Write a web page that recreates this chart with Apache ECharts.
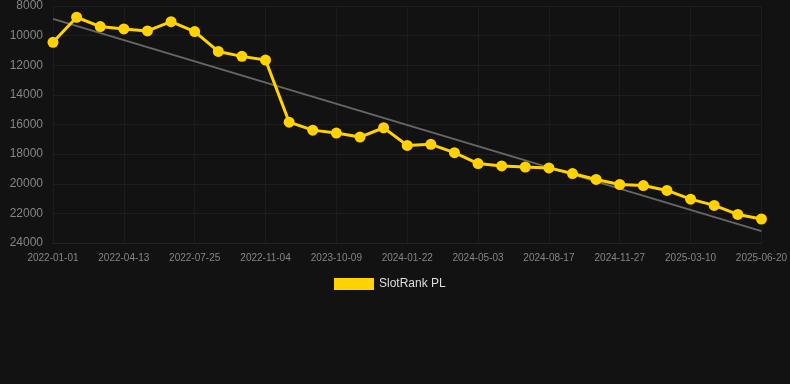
<!DOCTYPE html>
<html>
<head>
<meta charset="utf-8">
<script src="https://cdn.jsdelivr.net/npm/echarts@6/dist/echarts.min.js"></script>
<style>
html,body{margin:0;padding:0;background:#121212;}
#c{width:790px;height:384px;}
</style>
</head>
<body>
<div id="c"></div>
<script>
const xLabels = ["2022-01-01","2022-02-04","2022-03-10","2022-04-13","2022-05-17","2022-06-20","2022-07-25","2022-08-28","2022-10-01","2022-11-04","2023-07-01","2023-09-05","2023-10-09","2023-11-12","2023-12-17","2024-01-22","2024-02-25","2024-03-30","2024-05-03","2024-06-07","2024-07-12","2024-08-17","2024-09-20","2024-10-24","2024-11-27","2024-12-31","2025-02-04","2025-03-10","2025-04-13","2025-05-17","2025-06-20"];
const rankValues = [10450,8760,9390,9545,9680,9055,9727,11070,11400,11650,15840,16380,16580,16850,16220,17410,17340,17900,18640,18800,18870,18930,19310,19710,20050,20120,20450,21040,21460,22070,22380];
const seriesName = "SlotRank PL";
const yTicks = [8000,10000,12000,14000,16000,18000,20000,22000,24000];

// least-squares trend line from the data
const n = rankValues.length;
let sx=0, sy=0, sxy=0, sxx=0;
rankValues.forEach((v,i)=>{sx+=i; sy+=v; sxy+=i*v; sxx+=i*i;});
const slope = (n*sxy - sx*sy)/(n*sxx - sx*sx);
const icpt = (sy - slope*sx)/n;
const trendStart = icpt;
const trendEnd = icpt + slope*(n-1);

const chart = echarts.init(document.getElementById('c'), null, {renderer:'canvas'});
chart.setOption({
  backgroundColor: '#121212',
  animation: false,
  grid: {left: 53, right: 28, top: 6, bottom: 141},
  legend: {
    data: [seriesName],
    top: 273,
    left: 329,
    itemWidth: 40, itemHeight: 12, itemGap: 10,
    icon: 'rect',
    textStyle: {color: '#dddddd', fontSize: 12, fontFamily: 'Liberation Sans, Arial, sans-serif'}
  },
  xAxis: {
    type: 'category',
    boundaryGap: false,
    data: xLabels,
    axisLine: {show: true, lineStyle: {color: '#232323'}},
    axisTick: {show: false},
    axisLabel: {color: '#858585', fontSize: 10, interval: 2, margin: 10, fontFamily: 'Liberation Sans, Arial, sans-serif'},
    splitLine: {show: true, interval: 2, lineStyle: {color: '#1c1c1c', width: 1}}
  },
  yAxis: {
    type: 'value',
    inverse: true,
    min: yTicks[0], max: yTicks[yTicks.length-1], interval: 2000,
    axisLine: {show: false},
    axisTick: {show: false},
    axisLabel: {color: '#858585', fontSize: 12, margin: 10, formatter: v => String(v), fontFamily: 'Liberation Sans, Arial, sans-serif'},
    splitLine: {show: true, lineStyle: {color: '#1e1e1e', width: 1}}
  },
  series: [
    {
      name: 'trend',
      type: 'line',
      data: [[xLabels[0], trendStart], [xLabels[n-1], trendEnd]],
      symbol: 'none',
      lineStyle: {color: '#666666', width: 2},
      z: 1,
      silent: true
    },
    {
      name: seriesName,
      type: 'line',
      data: rankValues,
      symbol: 'circle',
      symbolSize: 11,
      itemStyle: {color: '#FFD200'},
      lineStyle: {color: '#FFD200', width: 3},
      z: 2
    }
  ]
});
</script>
</body>
</html>
